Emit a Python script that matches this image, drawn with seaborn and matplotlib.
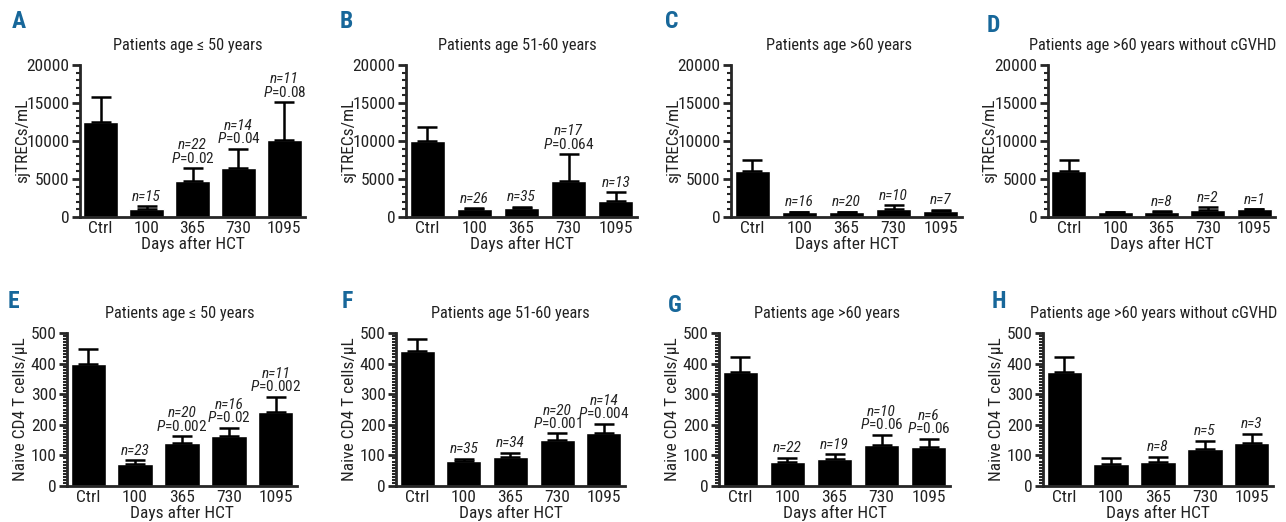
import numpy as np
import pandas as pd
import matplotlib
matplotlib.use('Agg')
import matplotlib.pyplot as plt
import seaborn as sns
from matplotlib import font_manager
from matplotlib.ticker import MultipleLocator

# categories
days = ['Ctrl', '100', '365', '730', '1095']

# sjTRECs/mL (mean, upper SEM)
trec_le50 = [12560, 1050, 4680, 6430, 10150]
trec_le50_err = [3190, 350, 1750, 2580, 4950]
trec_51_60 = [10000, 1000, 1170, 4780, 2170]
trec_51_60_err = [1800, 170, 180, 3480, 1090]
trec_gt60 = [6090, 650, 600, 1000, 830]
trec_gt60_err = [1430, 60, 60, 520, 120]
trec_gt60_nogvhd = [6100, 610, 700, 960, 1000]
trec_gt60_nogvhd_err = [1400, 60, 60, 340, 0]

# naive CD4 T cells/uL (mean, upper SEM)
cd4_le50 = [400, 73, 139, 163, 241]
cd4_le50_err = [48, 11, 24, 27, 50]
cd4_51_60 = [441, 82, 95, 149, 173]
cd4_51_60_err = [40, 7, 13, 23, 30]
cd4_gt60 = [372, 80, 89, 134, 126]
cd4_gt60_err = [50, 13, 14, 34, 29]
cd4_gt60_nogvhd = [372, 73, 80, 120, 139]
cd4_gt60_nogvhd_err = [50, 18, 15, 27, 31]

# annotations
n_a = ['', 'n=15', 'n=22', 'n=14', 'n=11']
p_a = ['', '', '0.02', '0.04', '0.08']
n_b = ['', 'n=26', 'n=35', 'n=17', 'n=13']
p_b = ['', '', '', '0.064', '']
n_c = ['', 'n=16', 'n=20', 'n=10', 'n=7']
p_c = ['', '', '', '', '']
n_d = ['', '', 'n=8', 'n=2', 'n=1']
p_d = ['', '', '', '', '']
n_e = ['', 'n=23', 'n=20', 'n=16', 'n=11']
p_e = ['', '', '0.002', '0.02', '0.002']
n_f = ['', 'n=35', 'n=34', 'n=20', 'n=14']
p_f = ['', '', '', '0.001', '0.004']
n_g = ['', 'n=22', 'n=19', 'n=10', 'n=6']
p_g = ['', '', '', '0.06', '0.06']
n_h = ['', '', 'n=8', 'n=5', 'n=3']
p_h = ['', '', '', '', '']

titles = ['Patients age \u2264 50 years', 'Patients age 51-60 years',
          'Patients age >60 years', 'Patients age >60 years without cGVHD']

sns.set_style('ticks')

# look for a condensed sans face, else shrink a normal one
fl = font_manager.fontManager.ttflist
names = {f.name for f in fl}
cond = {f.name for f in fl if str(f.stretch) in ('condensed', 'semi-condensed', 'extra-condensed')}
base, stretch, k = 'Liberation Sans', 'normal', 0.84
for cand, kk in [('Liberation Sans Narrow', 1.0), ('Roboto Condensed', 1.0),
                 ('Open Sans Condensed', 1.0), ('Noto Sans Display', 0.9)]:
    if cand in names:
        base, k = cand, kk
        break
else:
    if 'DejaVu Sans' in cond:
        base, stretch, k = 'DejaVu Sans', 'condensed', 0.88
plt.rcParams['font.family'] = [base, 'DejaVu Sans']
plt.rcParams['font.stretch'] = stretch
plt.rcParams['mathtext.fontset'] = 'custom'
plt.rcParams['mathtext.it'] = base + ':italic'
plt.rcParams['mathtext.rm'] = base

W, H = 1286, 522
fig = plt.figure(figsize=(W / 100, H / 100), dpi=100)

# axes boxes in pixels: left, top, right, bottom
boxes = [(80, 65, 305, 217), (406, 65, 637, 217), (731, 65, 962, 217), (1048, 65, 1275, 217),
         (67, 333, 297, 486), (396, 333, 625, 486), (719, 333, 950, 486), (1043, 333, 1273, 486)]
# y label centre, pixels left of the axis
ylab_off = [57, 57, 57, 58, 46, 46, 46, 46]
title_shift = [-5, -4, -7, -9, -2, 0, -7, -4]
letters = ['A', 'B', 'C', 'D', 'E', 'F', 'G', 'H']
letter_pos = [(12, 22), (340, 22), (665, 22), (987, 25), (8, 302), (342, 302), (668, 305), (992, 302)]

panels = [
    (trec_le50, trec_le50_err, n_a, p_a),
    (trec_51_60, trec_51_60_err, n_b, p_b),
    (trec_gt60, trec_gt60_err, n_c, p_c),
    (trec_gt60_nogvhd, trec_gt60_nogvhd_err, n_d, p_d),
    (cd4_le50, cd4_le50_err, n_e, p_e),
    (cd4_51_60, cd4_51_60_err, n_f, p_f),
    (cd4_gt60, cd4_gt60_err, n_g, p_g),
    (cd4_gt60_nogvhd, cd4_gt60_nogvhd_err, n_h, p_h),
]

txt = '#222222'
big = 12.5 * k
for i, (vals, errs, nl, pl) in enumerate(panels):
    l, t, r, b = boxes[i]
    w = r - l
    ax = fig.add_axes([l / W, 1 - b / H, w / W, (b - t) / H])
    df = pd.DataFrame({'day': days, 'value': vals})
    sns.barplot(x='day', y='value', data=df, color='black', saturation=1,
                width=0.75, errorbar=None, ax=ax)
    ax.errorbar(np.arange(5), vals, yerr=[np.zeros(5), errs], fmt='none',
                ecolor='black', elinewidth=1.8, capsize=7, capthick=1.8)
    if i < 4:
        ax.set_ylim(0, 20000)
        ax.set_yticks([0, 5000, 10000, 15000, 20000])
        ax.yaxis.set_minor_locator(MultipleLocator(1000))
        ax.set_ylabel('sjTRECs/mL', fontsize=big, color=txt)
    else:
        ax.set_ylim(0, 500)
        ax.set_yticks([0, 100, 200, 300, 400, 500])
        ax.yaxis.set_minor_locator(MultipleLocator(10))
        ax.set_ylabel('Naive CD4 T cells/\u03bcL', fontsize=big, color=txt)
    ax.yaxis.label.set_verticalalignment('center')
    ax.yaxis.set_label_coords(-ylab_off[i] / w, 0.5)
    ax.set_xlim(-0.45, 4.45)
    ax.set_xlabel('Days after HCT', fontsize=big, color=txt, labelpad=0)
    ax.set_title(titles[i % 4], fontsize=11.8 * k, color=txt, pad=11,
                 x=0.5 + title_shift[i] / w)
    sns.despine(ax=ax)
    for s in ['left', 'bottom']:
        ax.spines[s].set_linewidth(2)
    ax.tick_params(axis='y', which='major', length=6, width=2, pad=1.5, labelsize=big, labelcolor=txt)
    ax.tick_params(axis='y', which='minor', length=3, width=1.5)
    ax.tick_params(axis='x', length=0, pad=3, labelsize=big, labelcolor=txt)

    for j in range(5):
        ytop = vals[j] + errs[j]
        off = 4
        if pl[j]:
            ax.annotate(r'$\mathit{P}$=' + pl[j], (j, ytop), xytext=(0, off),
                        textcoords='offset points', ha='center', va='baseline',
                        fontsize=11 * k, color=txt)
            off += 9.5
        if nl[j]:
            ax.annotate(nl[j], (j, ytop), xytext=(0, off), textcoords='offset points',
                        ha='center', va='baseline', fontsize=11 * k, style='italic', color=txt)

    lx, ly = letter_pos[i]
    fig.text(lx / W, 1 - ly / H, letters[i], fontsize=17, fontweight='bold',
             color='#17679a', ha='left', va='center')

fig.savefig('out.png', dpi=100)
